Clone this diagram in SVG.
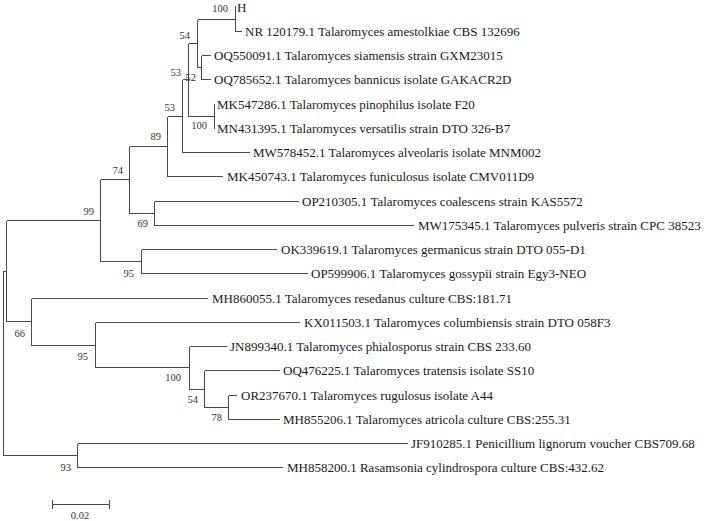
<svg xmlns="http://www.w3.org/2000/svg" width="708" height="521" viewBox="0 0 708 521">
<style>
.br{fill:none;stroke:#4a4a4a;stroke-width:1;shape-rendering:crispEdges}
.lf{font-family:"Liberation Serif","Times New Roman",serif;font-size:13px;fill:#1a1a1a}
.bs{font-family:"Liberation Serif","Times New Roman",serif;font-size:10.5px;fill:#333;text-anchor:end}
.sc{font-family:"Liberation Serif","Times New Roman",serif;font-size:10.5px;fill:#333;text-anchor:middle}
</style>
<rect width="708" height="521" fill="#fff"/>
<g id="connectors" class="br">
<path d="M3.5 271V455.5M3.5 271H6.5M6.5 220.5V321.5"/>
<path d="M6.5 220.5H100.5M100.5 179.5V261.5"/>
<path d="M100.5 179.5H129.5M129.5 146.5V213.5"/>
<path d="M129.5 146.5H167.5M167.5 116.5V176.5H223"/>
<path d="M167.5 116.5H182.5M182.5 79.5V152.5H250"/>
<path d="M182.5 79.5H188.5M188.5 43.5V116.5"/>
<path d="M188.5 43.5H197.5M197.5 19.5V67.5"/>
<path d="M197.5 19.5H235.5M235.5 6V31.5H242"/>
<path d="M197.5 67.5H201.5M201.5 55.5V79.5M201.5 55.5H211M201.5 79.5H211"/>
<path d="M188.5 116.5H214.5M214.5 104V128.5"/>
<path d="M129.5 213.5H154.5M154.5 201.5V225.5M154.5 201.5H299M154.5 225.5H414"/>
<path d="M100.5 261.5H141.5M141.5 249.5V273.5M141.5 249.5H277M141.5 273.5H308"/>
<path d="M6.5 321.5H31.5M31.5 298.5V345.5M31.5 298.5H208"/>
<path d="M31.5 345.5H95.5M95.5 322.5V367.5M95.5 322.5H300"/>
<path d="M95.5 367.5H189.5M189.5 346.5V389.5M189.5 346.5H227"/>
<path d="M189.5 389.5H204.5M204.5 370.5V407.5M204.5 370.5H280"/>
<path d="M204.5 407.5H228.5M228.5 395.5V419.5M228.5 395.5H237M228.5 419.5H280"/>
<path d="M3.5 455.5H77.5M77.5 443.5V467.5M77.5 443.5H408M77.5 467.5H283"/>
</g>
<g id="leaves">
<g id="leaf-H"><text class="lf" x="237" y="11.5">H</text></g>
<g id="leaf-NR120179"><text class="lf" x="245" y="35.5">NR 120179.1 Talaromyces amestolkiae CBS 132696</text></g>
<g id="leaf-OQ550091"><text class="lf" x="214" y="60">OQ550091.1 Talaromyces siamensis strain GXM23015</text></g>
<g id="leaf-OQ785652"><text class="lf" x="214" y="84">OQ785652.1 Talaromyces bannicus isolate GAKACR2D</text></g>
<g id="leaf-MK547286"><text class="lf" x="217" y="108.5">MK547286.1 Talaromyces pinophilus isolate F20</text></g>
<g id="leaf-MN431395"><text class="lf" x="217" y="132.5">MN431395.1 Talaromyces versatilis strain DTO 326-B7</text></g>
<g id="leaf-MW578452"><text class="lf" x="253" y="157">MW578452.1 Talaromyces alveolaris isolate MNM002</text></g>
<g id="leaf-MK450743"><text class="lf" x="227" y="181">MK450743.1 Talaromyces funiculosus isolate CMV011D9</text></g>
<g id="leaf-OP210305"><text class="lf" x="302" y="205.5">OP210305.1 Talaromyces coalescens strain KAS5572</text></g>
<g id="leaf-MW175345"><text class="lf" x="418" y="229.5">MW175345.1 Talaromyces pulveris strain CPC 38523</text></g>
<g id="leaf-OK339619"><text class="lf" x="281" y="254">OK339619.1 Talaromyces germanicus strain DTO 055-D1</text></g>
<g id="leaf-OP599906"><text class="lf" x="311" y="278">OP599906.1 Talaromyces gossypii strain Egy3-NEO</text></g>
<g id="leaf-MH860055"><text class="lf" x="212" y="303">MH860055.1 Talaromyces resedanus culture CBS:181.71</text></g>
<g id="leaf-KX011503"><text class="lf" x="304" y="327">KX011503.1 Talaromyces columbiensis strain DTO 058F3</text></g>
<g id="leaf-JN899340"><text class="lf" x="230" y="351">JN899340.1 Talaromyces phialosporus strain CBS 233.60</text></g>
<g id="leaf-OQ476225"><text class="lf" x="283" y="375">OQ476225.1 Talaromyces tratensis isolate SS10</text></g>
<g id="leaf-OR237670"><text class="lf" x="241" y="400">OR237670.1 Talaromyces rugulosus isolate A44</text></g>
<g id="leaf-MH855206"><text class="lf" x="283" y="424">MH855206.1 Talaromyces atricola culture CBS:255.31</text></g>
<g id="leaf-JF910285"><text class="lf" x="411" y="448">JF910285.1 Penicillium lignorum voucher CBS709.68</text></g>
<g id="leaf-MH858200"><text class="lf" x="287" y="472">MH858200.1 Rasamsonia cylindrospora culture CBS:432.62</text></g>
</g>
<g id="nodes">
<g id="node-HNR"><text class="bs" x="228" y="12">100</text></g>
<g id="node-54a"><text class="bs" x="190" y="39">54</text></g>
<g id="node-52"><text class="bs" x="196" y="81">52</text></g>
<g id="node-53a"><text class="bs" x="181" y="76">53</text></g>
<g id="node-100b"><text class="bs" x="207" y="129">100</text></g>
<g id="node-53b"><text class="bs" x="175" y="111">53</text></g>
<g id="node-89"><text class="bs" x="161" y="140">89</text></g>
<g id="node-74"><text class="bs" x="123" y="174">74</text></g>
<g id="node-69"><text class="bs" x="148" y="227">69</text></g>
<g id="node-99"><text class="bs" x="94" y="215">99</text></g>
<g id="node-95a"><text class="bs" x="134" y="277">95</text></g>
<g id="node-66"><text class="bs" x="25" y="337">66</text></g>
<g id="node-95b"><text class="bs" x="88" y="360">95</text></g>
<g id="node-100c"><text class="bs" x="181" y="381">100</text></g>
<g id="node-54b"><text class="bs" x="198" y="403">54</text></g>
<g id="node-78"><text class="bs" x="222" y="421">78</text></g>
<g id="node-93"><text class="bs" x="71" y="471">93</text></g>
</g>
<g id="scale">
<path class="br" d="M52.5 504.5H109.5M52.5 500V509M109.5 500V509"/>
<text class="sc" x="80" y="519">0.02</text>
</g>
</svg>
